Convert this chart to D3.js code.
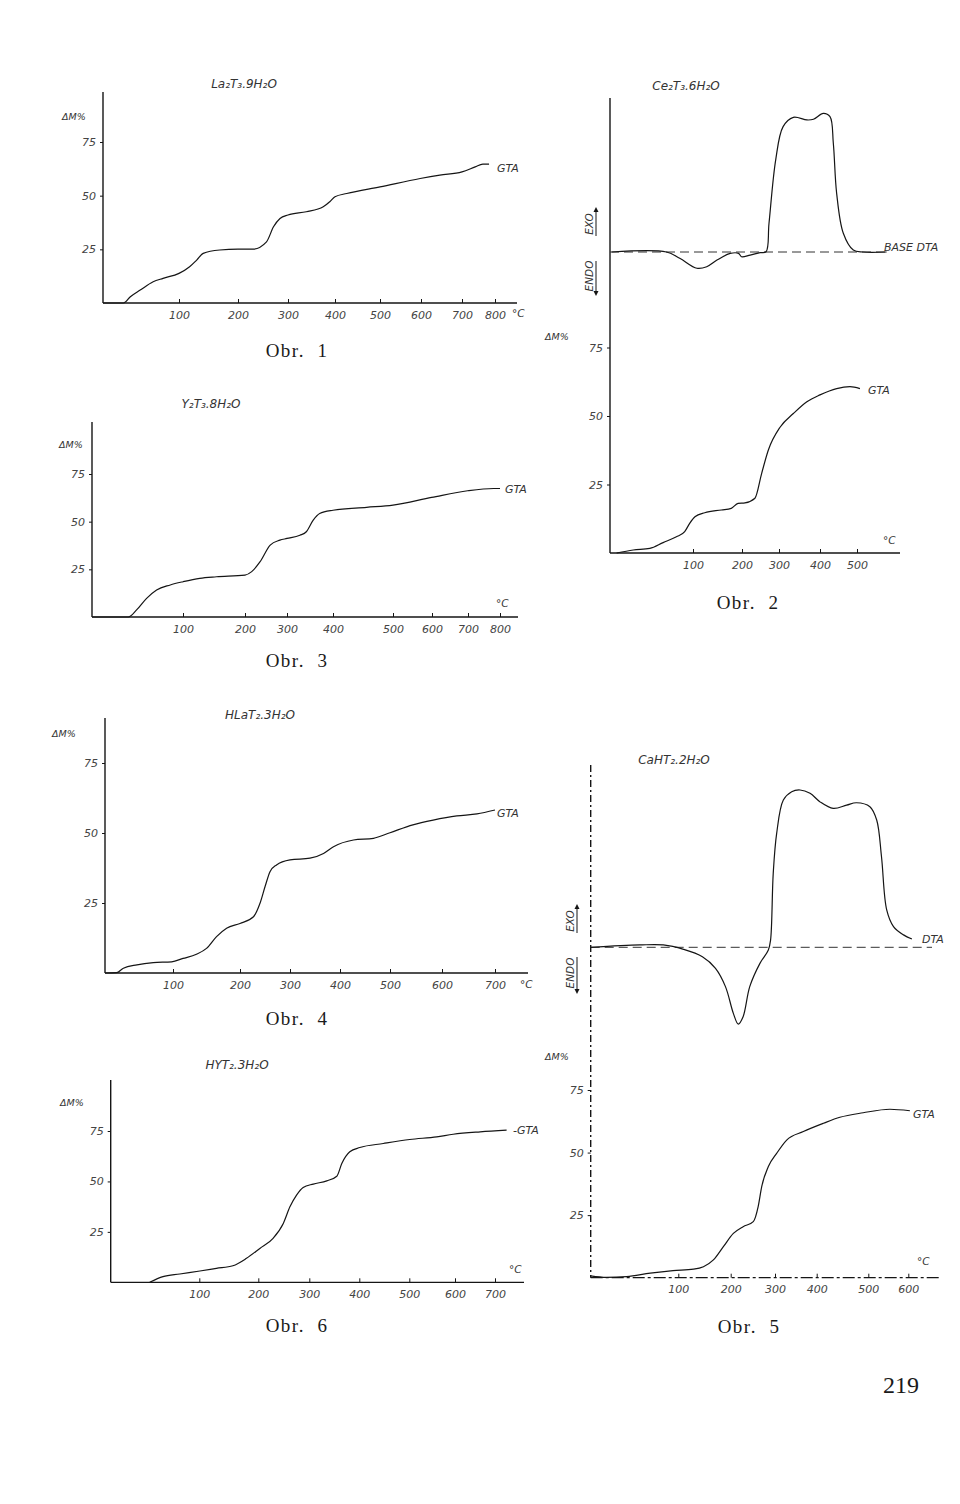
<!DOCTYPE html>
<html>
<head>
<meta charset="utf-8">
<script src="https://cdn.jsdelivr.net/npm/d3@7"></script>
<style>
  html, body { margin: 0; padding: 0; background: #fff; }
  svg { display: block; }
  .lbl { font-family: "DejaVu Sans", sans-serif; font-style: italic; fill: #333; }
  .obr { font-family: "Liberation Serif", "DejaVu Serif", serif; fill: #1a1a1a; }
  .tick text { font-family: "DejaVu Sans", sans-serif; font-style: italic; fill: #444; font-size: 11px; }
</style>
</head>
<body>
<svg id="page" width="960" height="1504"></svg>
<script>
// ---------------- DATA ----------------
const yTickValues = [25, 50, 75];

// Obr. 1  La2T3.9H2O  (temperature °C, mass loss ΔM %)
const obr1Ticks = [0, 100, 200, 300, 400, 500, 600, 700, 800];
const obr1Temp = [0, 27, 36, 49, 66, 79, 100, 118, 130, 141, 169, 200, 230, 257, 271, 284, 300, 339, 375, 389, 400, 426, 500, 598, 646, 700, 740, 763, 782];
const obr1Loss = [0, 0, 2.9, 6, 9.9, 11.5, 13.8, 16.9, 20, 23.1, 24.7, 25.1, 25.1, 28.5, 35.5, 39.4, 41, 42.5, 44.8, 47.2, 49.5, 51, 54.1, 58, 59.6, 61.1, 63.4, 64.7, 64.7];

// Obr. 2  Ce2T3.6H2O
const obr2Ticks = [0, 100, 200, 300, 400, 500];
const obr2Temp = [8, 28, 48, 64, 80, 90, 96, 104, 124, 158, 178, 192, 208, 235, 253, 271, 303, 335, 368, 400, 445, 481, 508];
const obr2Loss = [0, 1.1, 1.7, 3.8, 5.9, 7.8, 10.8, 13.2, 14.7, 15.7, 16.3, 18.1, 18.3, 20, 29, 37.5, 46, 50.9, 55.2, 57.7, 60, 60.7, 60];
const obr2DtaTemp = [2, 68, 84, 108, 128, 149, 176, 193, 199, 222, 249, 265, 273, 291, 310, 335, 368, 384, 409, 427, 436, 445, 463, 490, 517, 580];
const obr2Dta = [0, 0, -4.5, -11.7, -10.6, -5.8, -1, -1, -3.4, -2.2, -0.5, 0.2, 20.7, 66.3, 90.4, 97.1, 95.2, 95.7, 100, 97.6, 78.4, 42.3, 13.5, 1.4, 0, 0];

// Obr. 3  Y2T3.8H2O
const obr3Ticks = [0, 100, 200, 300, 400, 500, 600, 700, 800];
const obr3Temp = [0, 40, 49, 60, 71, 86, 100, 127, 154, 200, 216, 236, 260, 283, 300, 328, 342, 357, 371, 400, 456, 500, 599, 699, 780, 800];
const obr3Loss = [0, 0, 3.7, 9.8, 14.2, 16.8, 18.5, 20.3, 21.1, 22, 23.8, 29, 37.7, 40.3, 41.2, 42.9, 44.7, 50.8, 54.3, 56, 57.5, 58.7, 62.7, 66.2, 67.4, 67.4];

// Obr. 4  HLaT2.3H2O
const obr4Ticks = [0, 100, 200, 300, 400, 500, 600, 700];
const obr4Temp = [0, 17, 27, 47, 71, 98, 115, 135, 150, 165, 180, 200, 227, 240, 250, 260, 273, 300, 340, 367, 387, 427, 467, 500, 544, 583, 628, 666, 700];
const obr4Loss = [0, 0.1, 1.7, 2.9, 3.7, 4, 5.2, 6.7, 8.8, 13, 16, 17.7, 20.1, 24.9, 30.8, 36.2, 38.6, 40.4, 41, 42.7, 45.1, 47.5, 48.1, 50.1, 52.9, 54.6, 56.1, 56.8, 58.2];

// Obr. 5  CaHT2.2H2O
const obr5Ticks = [0, 100, 200, 300, 400, 500, 600];
const obr5Temp = [0, 18, 41, 68, 94, 129, 148, 167, 186, 206, 228, 251, 262, 270, 285, 304, 328, 368, 413, 445, 490, 554, 604];
const obr5Loss = [0.7, 0.1, 0.4, 1.8, 2.8, 3.4, 4.4, 7.1, 12.4, 17.7, 20.4, 22.4, 28.4, 36.4, 44.4, 49.7, 55, 58.4, 61.7, 64.1, 65.9, 67.3, 66.7];
const obr5DtaTemp = [0, 56, 83, 110, 146, 171, 190, 206, 217, 228, 243, 266, 285, 290, 296, 304, 320, 340, 360, 384, 406, 432, 458, 477, 504, 521, 533, 546, 563, 588, 609];
const obr5Dta = [0, 1.5, 1.5, -1.3, -6, -13.4, -25, -42, -48.8, -44.1, -25, -10.2, -1.7, 4.6, 47, 72.4, 93.6, 98.9, 100, 97.9, 92.6, 88.3, 90.4, 91.9, 89.4, 80.9, 57.6, 23.8, 13.2, 7.9, 5.3];

// Obr. 6  HYT2.3H2O
const obr6Ticks = [0, 100, 200, 300, 400, 500, 600, 700];
const obr6Temp = [44, 59, 78, 101, 129, 157, 180, 203, 229, 249, 262, 275, 288, 308, 335, 355, 365, 381, 401, 448, 501, 560, 596, 663, 729];
const obr6Loss = [0, 2.8, 4.1, 5.6, 6.9, 8.2, 11.9, 16.8, 21.8, 29.2, 37.4, 43.2, 47, 48.7, 50.3, 52.6, 58.9, 64.7, 66.8, 68.8, 70.8, 72.1, 73.4, 74.6, 75.4];

// ---------------- LAYOUT ----------------
const svg = d3.select("#page");
const ink = "#151515";

function polyX(ticks, px) {
  return d3.scaleLinear().domain(ticks).range(px);
}

function drawTGA(cfg) {
  const g = svg.append("g");
  const x = polyX(cfg.ticks, cfg.tickPx);
  const y = d3.scaleLinear().domain([0, 75]).range([cfg.y0, cfg.y75]);
  const x0 = x(0);
  const dash = cfg.dashAxis ? "7,3,2,3" : null;

  g.append("line").attr("x1", x0).attr("x2", x0).attr("y1", cfg.yTop).attr("y2", y(0))
    .attr("stroke", ink).attr("stroke-width", 1.4).attr("stroke-dasharray", dash);
  g.append("line").attr("x1", x0).attr("x2", cfg.xEnd).attr("y1", y(0)).attr("y2", y(0))
    .attr("stroke", ink).attr("stroke-width", 1.3).attr("stroke-dasharray", cfg.dashX ? "12,3,3,3" : null);

  const xa = d3.axisBottom(x).tickValues(cfg.ticks.slice(1)).tickSizeInner(-4).tickSizeOuter(0).tickPadding(8);
  const gx = g.append("g").attr("transform", `translate(0,${y(0)})`).call(xa);
  gx.select(".domain").remove();
  gx.selectAll(".tick line").attr("stroke", ink);

  const ya = d3.axisLeft(y).tickValues(yTickValues).tickSizeInner(3).tickSizeOuter(0).tickPadding(4);
  const gy = g.append("g").attr("transform", `translate(${x0},0)`).call(ya);
  gy.select(".domain").remove();
  gy.selectAll(".tick line").attr("stroke", ink);
  gy.selectAll(".tick text").style("font-size", "11px");

  const line = d3.line().x((d, i) => x(cfg.temp[i])).y((d, i) => y(cfg.loss[i])).curve(d3.curveMonotoneX);
  g.append("path").datum(cfg.loss).attr("d", line).attr("fill", "none")
    .attr("stroke", ink).attr("stroke-width", 1.2);

  g.append("text").attr("class", "lbl").attr("x", cfg.gta[0]).attr("y", cfg.gta[1])
    .style("font-size", "11px").text(cfg.gtaText || "GTA");
  g.append("text").attr("class", "lbl").attr("x", cfg.dm[0]).attr("y", cfg.dm[1])
    .style("font-size", "9.5px").text("ΔM%");
  g.append("text").attr("class", "lbl").attr("x", cfg.deg[0]).attr("y", cfg.deg[1])
    .style("font-size", "10.5px").text("°C");
  if (cfg.title) {
    g.append("text").attr("class", "lbl").attr("x", cfg.title[0]).attr("y", cfg.title[1])
      .attr("text-anchor", "middle").style("font-size", "12px").text(cfg.title[2]);
  }
  g.append("text").attr("class", "obr").attr("x", cfg.obr[0]).attr("y", cfg.obr[1])
    .attr("text-anchor", "middle").style("font-size", "19px").style("letter-spacing", "1.5px")
    .style("white-space", "pre").text(cfg.obr[2]);
  return x;
}

function drawDTA(cfg, x) {
  const g = svg.append("g");
  const y = d3.scaleLinear().domain([0, 100]).range([cfg.base, cfg.peak]);
  g.append("line").attr("x1", x(0)).attr("x2", cfg.baseEnd).attr("y1", y(0)).attr("y2", y(0))
    .attr("stroke", "#333").attr("stroke-width", 1).attr("stroke-dasharray", "9,5");
  const line = d3.line().x((d, i) => x(cfg.temp[i])).y((d, i) => y(cfg.dta[i])).curve(d3.curveCatmullRom.alpha(0.5));
  g.append("path").datum(cfg.dta).attr("d", line).attr("fill", "none")
    .attr("stroke", ink).attr("stroke-width", 1.2);
  g.append("text").attr("class", "lbl").attr("x", cfg.label[0]).attr("y", cfg.label[1])
    .style("font-size", "11px").text(cfg.label[2]);
  g.append("text").attr("class", "lbl").attr("x", cfg.title[0]).attr("y", cfg.title[1])
    .attr("text-anchor", "middle").style("font-size", "12px").text(cfg.title[2]);

  const ex = cfg.exo;
  g.append("text").attr("class", "lbl").attr("transform", `translate(${ex.x},${ex.exoY}) rotate(-90)`)
    .attr("text-anchor", "middle").style("font-size", "10.5px").text("EXO");
  g.append("text").attr("class", "lbl").attr("transform", `translate(${ex.x},${ex.endoY}) rotate(-90)`)
    .attr("text-anchor", "middle").style("font-size", "10.5px").text("ENDO");
  const ux = ex.x + 3;
  g.append("line").attr("x1", ux).attr("x2", ux).attr("y1", ex.exoY + ex.half).attr("y2", ex.exoY - ex.half - 3)
    .attr("stroke", ink).attr("stroke-width", 1);
  g.append("path").attr("d", `M${ux - 2.5},${ex.exoY - ex.half} L${ux},${ex.exoY - ex.half - 5} L${ux + 2.5},${ex.exoY - ex.half}Z`).attr("fill", ink);
  g.append("line").attr("x1", ux).attr("x2", ux).attr("y1", ex.endoY - ex.half2).attr("y2", ex.endoY + ex.half2 + 3)
    .attr("stroke", ink).attr("stroke-width", 1);
  g.append("path").attr("d", `M${ux - 2.5},${ex.endoY + ex.half2} L${ux},${ex.endoY + ex.half2 + 5} L${ux + 2.5},${ex.endoY + ex.half2}Z`).attr("fill", ink);
}

// Obr. 1
drawTGA({
  ticks: obr1Ticks, tickPx: [103, 179, 238, 288, 335, 380, 421, 462, 495],
  y0: 303, y75: 142, yTop: 92, xEnd: 517, temp: obr1Temp, loss: obr1Loss,
  gta: [497, 172], dm: [62, 120], deg: [512, 317],
  title: [244, 88, "La₂T₃.9H₂O"], obr: [297, 357, "Obr.  1"]
});

// Obr. 2
const x2 = drawTGA({
  ticks: obr2Ticks, tickPx: [610, 693, 742, 779, 820, 857],
  y0: 553, y75: 347.5, yTop: 98, xEnd: 900, temp: obr2Temp, loss: obr2Loss,
  gta: [868, 394], dm: [545, 340], deg: [883, 544],
  obr: [748, 609, "Obr.  2"]
});
drawDTA({
  base: 252, peak: 113.3, baseEnd: 885, temp: obr2DtaTemp, dta: obr2Dta,
  label: [884, 251, "BASE DTA"], title: [686, 90, "Ce₂T₃.6H₂O"],
  exo: { x: 593, exoY: 224, endoY: 276, half: 12, half2: 15 }
}, x2);

// Obr. 3
drawTGA({
  ticks: obr3Ticks, tickPx: [92, 183, 245, 287, 333, 393, 432, 468, 500],
  y0: 617, y75: 474, yTop: 422, xEnd: 518, temp: obr3Temp, loss: obr3Loss,
  gta: [505, 493], dm: [59, 448], deg: [496, 607],
  title: [211, 408, "Y₂T₃.8H₂O"], obr: [297, 667, "Obr.  3"]
});

// Obr. 4
drawTGA({
  ticks: obr4Ticks, tickPx: [105, 173, 240, 290, 340, 390, 442, 495],
  y0: 973, y75: 763, yTop: 718, xEnd: 528, temp: obr4Temp, loss: obr4Loss,
  gta: [497, 817], dm: [52, 737], deg: [520, 988],
  title: [260, 719, "HLaT₂.3H₂O"], obr: [297, 1025, "Obr.  4"]
});

// Obr. 5
const x5 = drawTGA({
  ticks: obr5Ticks, tickPx: [590.7, 678.3, 730.7, 775, 816.7, 868.3, 908.3],
  y0: 1277.7, y75: 1090, yTop: 765, xEnd: 940, temp: obr5Temp, loss: obr5Loss,
  gta: [913, 1118], dm: [545, 1060], deg: [917, 1265], dashAxis: true, dashX: true,
  obr: [749, 1333, "Obr.  5"]
});
drawDTA({
  base: 947.3, peak: 790, baseEnd: 932, temp: obr5DtaTemp, dta: obr5Dta,
  label: [922, 943, "DTA"], title: [674, 764, "CaHT₂.2H₂O"],
  exo: { x: 574, exoY: 921, endoY: 973, half: 12, half2: 16 }
}, x5);

// Obr. 6
drawTGA({
  ticks: obr6Ticks, tickPx: [110.7, 199.3, 258.3, 309.3, 359.3, 409.3, 455, 495],
  y0: 1282.3, y75: 1131, yTop: 1080, xEnd: 524, temp: obr6Temp, loss: obr6Loss,
  gta: [513, 1134], gtaText: "-GTA", dm: [60, 1106], deg: [509, 1273],
  title: [237, 1069, "HYT₂.3H₂O"], obr: [297, 1332, "Obr.  6"]
});

svg.append("text").attr("class", "obr").attr("x", 901).attr("y", 1393)
  .attr("text-anchor", "middle").style("font-size", "24px").text("219");
</script>
</body>
</html>
